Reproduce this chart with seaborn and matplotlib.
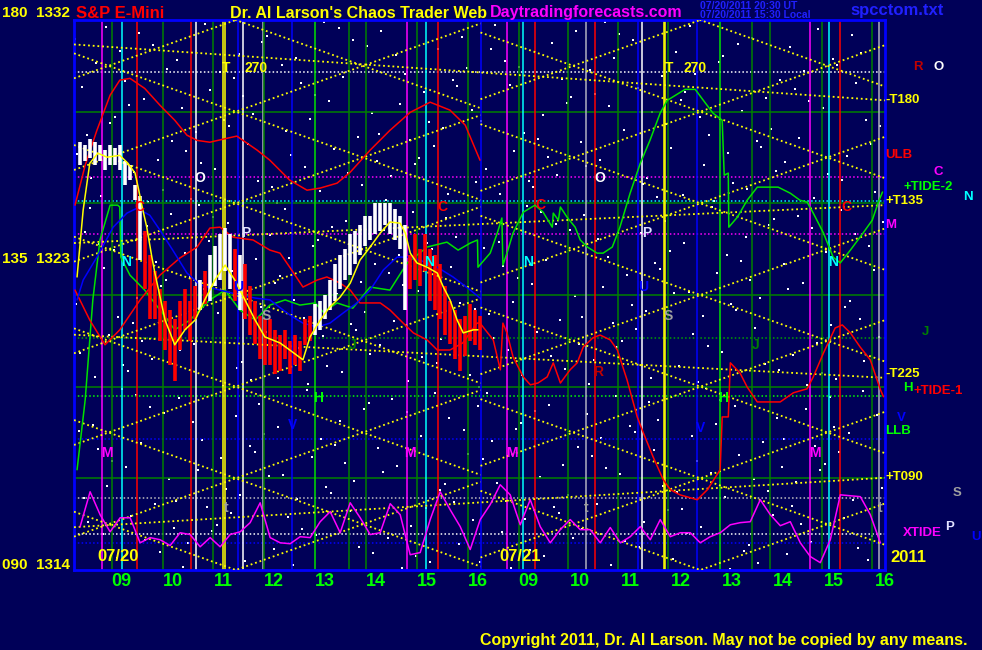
import numpy as np
import pandas as pd
import seaborn as sns
import matplotlib.pyplot as plt

sns.set_style('dark')
plt.rcParams['font.family'] = ['Liberation Sans', 'DejaVu Sans']
plt.rcParams['font.weight'] = 'bold'

BG = '#000058'

# ---- price bars (day 1), hours from 09:00 ----
bar_highs = [1328.0, 1327.9, 1328.1, 1328.0, 1327.9, 1327.75, 1327.9, 1327.8, 1327.9, 1327.4,
             1327.25, 1326.6, 1326.25, 1325.1, 1324.3, 1323.8, 1323.2, 1322.8, 1322.5, 1322.2,
             1322.8, 1323.2, 1322.8, 1323.3, 1323.5, 1323.8, 1324.3, 1324.6, 1325.0, 1325.2,
             1325.0, 1324.5, 1324.3, 1324.0, 1323.3, 1322.8, 1322.3, 1322.2, 1322.2, 1321.85,
             1321.7, 1321.85, 1321.5, 1321.7, 1321.5, 1322.2, 1322.3, 1322.7, 1322.8, 1323.0,
             1323.5, 1324.0, 1324.3, 1324.5, 1325.0, 1325.1, 1325.3, 1325.6, 1325.6, 1326.0,
             1326.0, 1326.0, 1326.0, 1325.8, 1325.6, 1325.3, 1324.3, 1325.0, 1324.5, 1325.0,
             1324.5, 1324.3, 1324.0, 1323.3, 1322.8, 1322.5, 1322.2, 1322.3, 1322.7, 1322.5,
             1322.3]
bar_lows = [1327.25, 1327.4, 1327.5, 1327.25, 1327.4, 1327.1, 1327.25, 1327.25, 1327.1, 1326.6,
            1326.75, 1326.1, 1324.15, 1323.2, 1322.2, 1322.2, 1321.5, 1321.2, 1320.7, 1320.2,
            1321.2, 1321.85, 1321.5, 1322.2, 1322.5, 1322.7, 1322.8, 1323.3, 1323.5, 1323.8,
            1323.2, 1322.8, 1322.5, 1322.2, 1321.7, 1321.4, 1320.9, 1320.7, 1320.7, 1320.4,
            1320.5, 1320.9, 1320.4, 1320.7, 1320.5, 1321.35, 1321.5, 1321.7, 1321.85, 1322.2,
            1322.5, 1322.8, 1323.2, 1323.5, 1323.65, 1324.0, 1324.3, 1324.6, 1324.8, 1325.0,
            1325.1, 1325.3, 1325.0, 1324.8, 1324.5, 1322.5, 1323.2, 1323.5, 1323.3, 1323.8,
            1322.8, 1322.5, 1322.2, 1321.7, 1321.4, 1320.9, 1320.5, 1321.0, 1321.5, 1321.35,
            1321.2]
bar_dirs = "wwwwwwwwwwwww" + "rrrrrrrrrrr" + "w" + "r" + "wwwww" + "r" + "w" + "r" * 14 + "w" * 19 + "r" * 15
bar_start, bar_step = -0.62, 0.0983

# ---- curves (time in session hours, value in price) ----
tide2_t = [-0.68, -0.52, -0.37, -0.23, -0.03, 0.12, 0.16, 0.18, 0.36, 0.65, 0.95, 1.24, 1.54, 1.93, 2.23,
           2.52, 2.82, 3.11, 3.41, 3.7, 4.0, 4.16, 4.43, 4.74, 5.08, 5.47, 5.81, 6.2, 6.59, 6.81, 7.05,
           7.19, 7.2, 7.44, 7.58, 7.67, 7.69, 7.77, 7.89, 8.09, 8.32, 8.48, 8.66, 8.68, 8.78, 8.82,
           8.95, 9.11, 9.21, 9.35, 9.54, 9.66, 9.84, 9.99, 10.19, 10.39, 10.58, 10.78, 10.92, 11.27,
           11.47, 11.63, 11.82, 12.0, 12.02, 12.04, 12.12, 12.13, 12.3, 12.49, 12.69, 13.1, 13.34,
           13.53, 13.67, 13.79, 13.99, 14.18, 14.32, 14.52, 14.77, 14.95, 15.07, 15.15]
tide2_v = [1317.28, 1319.57, 1322.84, 1324.8, 1325.94, 1325.94, 1325.88, 1324.24, 1323.65, 1323.16,
           1322.51, 1321.86, 1322.18, 1322.84, 1323.16, 1322.51, 1322.18, 1322.67, 1322.84, 1322.67,
           1322.74, 1322.44, 1322.74, 1322.57, 1323.26, 1323.16, 1324.05, 1324.57, 1324.73, 1324.47,
           1324.7, 1324.8, 1323.91, 1324.37, 1325.03, 1325.52, 1323.98, 1324.37, 1325.03, 1325.71,
           1325.94, 1325.71, 1325.22, 1325.68, 1325.45, 1325.88, 1325.55, 1325.22, 1324.8, 1324.57,
           1324.37, 1324.37, 1324.57, 1325.22, 1326.33, 1327.31, 1328.06, 1328.95, 1329.37, 1329.73,
           1329.73, 1329.37, 1328.95, 1328.72, 1327.8, 1326.92, 1326.99, 1325.22, 1325.55, 1326.1,
           1326.53, 1326.53, 1326.33, 1326.1, 1326.04, 1325.68, 1325.03, 1324.24, 1324.05, 1324.47,
           1325.03, 1325.45, 1326.04, 1326.37]

tide1_t = [-0.72, -0.43, -0.13, 0.16, 0.56, 0.95, 1.34, 1.68, 1.93, 2.13, 2.39, 2.78, 3.11, 3.31, 3.5,
           3.76, 4.04, 4.23, 4.49, 4.69, 4.88, 5.28, 5.47, 5.73, 5.93, 6.2, 6.4, 6.65, 6.9, 7.18,
           7.24, 7.5, 7.64, 7.69, 7.77, 7.89, 8.09, 8.23, 8.38, 8.56, 8.68, 8.82, 9.01, 9.15, 9.27,
           9.46, 9.6, 9.8, 9.94, 10.13, 10.33, 10.45, 10.64, 10.84, 10.98, 11.17, 11.51, 11.71, 11.96,
           12.0, 12.12, 12.16, 12.35, 12.49, 12.69, 13.14, 13.4, 13.67, 13.79, 13.99, 14.22, 14.36,
           14.52, 14.71, 14.91, 15.11, 15.17]
tide1_v = [1323.16, 1322.18, 1321.37, 1321.86, 1322.84, 1323.65, 1324.21, 1324.57, 1325.19, 1325.22,
           1324.89, 1324.8, 1324.47, 1324.37, 1323.91, 1323.26, 1323.49, 1323.59, 1323.39, 1323.16,
           1322.74, 1322.74, 1322.51, 1322.08, 1321.76, 1321.53, 1321.2, 1321.2, 1321.43, 1322.08,
           1322.08, 1321.53, 1320.55, 1322.08, 1321.76, 1320.97, 1320.32, 1320.06, 1320.12, 1320.32,
           1320.78, 1320.12, 1320.55, 1320.78, 1321.3, 1321.6, 1321.69, 1321.53, 1321.2, 1320.22,
           1319.01, 1318.49, 1317.71, 1316.96, 1316.63, 1316.46, 1316.3, 1316.63, 1317.28, 1319.01,
           1319.01, 1320.78, 1320.45, 1319.99, 1319.5, 1319.5, 1319.8, 1319.93, 1320.32, 1321.1,
           1321.92, 1322.02, 1321.76, 1321.3, 1320.88, 1319.9, 1319.67]

ulb_t = [-0.72, -0.52, -0.29, -0.03, 0.16, 0.36, 0.65, 0.95, 1.24, 1.48, 1.68, 1.93, 2.27, 2.46, 2.86,
         3.11, 3.5, 3.84, 4.1, 4.43, 4.69, 5.08, 5.47, 5.87, 6.26, 6.65, 6.95, 7.24]
ulb_v = [1325.94, 1327.25, 1328.39, 1329.54, 1330.03, 1330.09, 1329.76, 1329.21, 1328.72, 1328.23,
         1328.06, 1328.0, 1328.13, 1328.2, 1327.74, 1327.41, 1326.76, 1326.43, 1326.5, 1326.66,
         1327.02, 1327.74, 1328.39, 1328.98, 1329.31, 1329.05, 1328.56, 1327.41]

blue_t = [-0.68, -0.56, -0.29, 0.03, 0.3, 0.5, 0.75, 0.95, 1.2, 1.48, 1.74, 2.13, 2.52, 2.82, 3.11,
          3.37, 3.56, 3.76, 4.04, 4.29, 4.55, 4.82, 5.08, 5.34, 5.61, 5.87, 6.06, 6.4, 6.71, 7.05, 7.24]
blue_v = [1322.84, 1323.49, 1324.24, 1325.22, 1325.68, 1325.84, 1325.61, 1325.12, 1324.47, 1323.72,
          1323.33, 1323.16, 1323.0, 1322.9, 1322.84, 1322.51, 1322.28, 1322.08, 1321.95, 1322.08,
          1322.41, 1322.74, 1323.16, 1323.82, 1324.24, 1324.24, 1324.14, 1323.91, 1323.59, 1323.16,
          1322.9]

avg_t = [-0.68, -0.56, -0.43, -0.27, -0.09, 0.16, 0.32, 0.46, 0.52, 0.6, 0.69, 0.79, 0.85, 1.05, 1.24,
         1.44, 1.64, 1.83, 2.03, 2.23, 2.42, 2.62, 2.82, 3.01, 3.31, 3.5, 3.76, 3.9, 4.1, 4.29, 4.49,
         4.69, 4.88, 5.08, 5.28, 5.47, 5.67, 5.77, 5.87, 6.0, 6.2, 6.4, 6.52, 6.65, 6.79, 6.91, 7.11, 7.2]
avg_v = [1323.59, 1325.78, 1327.31, 1327.64, 1327.51, 1327.57, 1327.31, 1326.99, 1326.53, 1325.88,
         1325.22, 1324.24, 1323.72, 1322.18, 1321.37, 1321.86, 1322.18, 1322.84, 1323.49, 1323.98,
         1323.49, 1322.84, 1322.18, 1321.63, 1321.43, 1321.2, 1320.88, 1321.63, 1322.18, 1322.61,
         1322.93, 1323.39, 1324.14, 1324.57, 1325.03, 1325.39, 1325.35, 1325.03, 1324.37, 1324.05,
         1323.91, 1323.72, 1323.26, 1322.84, 1322.18, 1321.76, 1321.86, 1321.86]

xtide_start, xtide_step = -0.62, 0.1966
xtide_v = [1315.42, 1316.56, 1315.81, 1315.25, 1315.71, 1315.71, 1314.89, 1315.06, 1314.99, 1314.8,
           1315.22, 1315.16, 1314.76, 1315.06, 1314.76, 1315.16, 1315.25, 1315.55, 1316.2, 1315.06,
           1314.89, 1314.86, 1315.09, 1315.06, 1315.58, 1315.91, 1315.22, 1316.2, 1315.71, 1315.16,
           1315.22, 1316.17, 1315.81, 1314.5, 1314.57, 1315.65, 1316.56, 1315.97, 1315.42, 1314.67,
           1315.65,
           1316.14, 1316.79, 1316.46, 1315.48, 1316.3, 1315.42, 1314.89, 1315.32, 1315.65, 1315.32,
           1315.32, 1314.89, 1315.39, 1314.89, 1315.09, 1315.42, 1314.99, 1315.65, 1315.09, 1315.22,
           1315.22, 1314.89, 1315.09, 1315.22, 1315.48, 1315.55, 1315.58, 1316.3, 1315.81, 1315.45,
           1315.58, 1314.89, 1314.44, 1314.24, 1314.99, 1316.46, 1316.43, 1316.4, 1315.81, 1314.89]

# ---- vertical timing lines ----
vline_t = [-0.18, 0.0, 0.21, 0.49, 1.0, 1.56, 1.65, 2.0, 2.19, 2.22, 2.48, 2.58, 2.98, 3.0, 3.55, 4.0,
           4.67, 5.0, 5.8, 6.0, 6.17, 6.42, 7.0, 7.25,
           7.77, 8.0, 8.09, 8.33, 8.96, 9.32, 9.5, 9.96, 10.35, 10.43, 10.85, 10.88, 10.94, 11.5,
           11.95, 12.58, 12.94, 13.73, 13.96, 14.09, 14.32, 14.95, 15.09]
vline_c = ['#ff00ff', '#008000', '#00ffff', '#ff0000', '#008000', '#ff0000', '#ffffff', '#008000',
           '#ffff00', '#ffff00', '#0000ff', '#ffffff', '#b0b0c0', '#008000', '#0000ff', '#00e000',
           '#008000', '#008000', '#ff00ff', '#008000', '#00ffff', '#ff0000', '#008000', '#0000ff',
           '#ff00ff', '#008000', '#00ffff', '#ff0000', '#008000', '#b0b0c0', '#ff0000', '#008000',
           '#0000ff', '#ffffff', '#ffff00', '#ffff00', '#008000', '#0000ff', '#00e000', '#008000',
           '#008000', '#ff00ff', '#008000', '#00ffff', '#ff0000', '#008000', '#b0b0c0']

# ---- horizontal price levels ----
hline_v = [1330.3, 1329.0, 1326.86, 1326.07, 1326.0, 1325.0, 1323.0, 1321.6, 1320.0, 1319.7, 1318.3,
           1317.0, 1316.35, 1315.18, 1314.9]
hline_c = ['#ffffff', '#008000', '#ff00ff', '#00ffff', '#008000', '#ff00ff', '#008000', '#00a000',
           '#008000', '#00ff00', '#0000ff', '#008000', '#c0c0c0', '#ffffff', '#0000ff']
hline_dotted = [1, 0, 1, 1, 0, 1, 0, 1, 0, 1, 1, 0, 1, 1, 1]

# ---- price/time lattice ----
lattice_days = [(-0.74, 7.25, 2.44), (7.25, 15.2, 11.57)]   # start, end, crossing hour
lattice_levels = list(range(1305, 1342, 3))
lattice_slope = 0.6
tline_left = [1331.2, 1324.7, 1321.7, 1315.4]
tline_right = [1329.37, 1325.94, 1320.29, 1317.02]

hour_pos = list(range(16))
hour_lab = ['09', '10', '11', '12', '13', '14', '15', '16'] * 2

# ---------------- drawing ----------------
W, H = 982, 650
fig = plt.figure(figsize=(W / 100, H / 100), dpi=100, facecolor=BG)
ax = fig.add_axes([74 / W, 80 / H, 811 / W, 550 / H])
ax.set_facecolor(BG)
ax.set_xlim(-0.74, 15.2)
ax.set_ylim(1314, 1332)
ax.grid(False)


def halton(i, b):
    f, r = 1.0, 0.0
    while i > 0:
        f /= b
        r += f * (i % b)
        i //= b
    return r


star_x = [halton(i, 2) for i in range(1, 520)]
star_y = [halton(i, 3) for i in range(1, 520)]
ax.scatter(star_x, star_y, s=1.2, c='white', marker='s', linewidths=0, transform=ax.transAxes, zorder=1)

for v, c, d in zip(hline_v, hline_c, hline_dotted):
    ax.axhline(v, color=c, lw=1.1, ls=(0, (1, 1.5)) if d else '-', zorder=2)

for t, c in zip(vline_t, vline_c):
    ax.axvline(t, color=c, lw=1.1, zorder=2)

for t0, t1, anchor in lattice_days:
    for lv in lattice_levels:
        for sgn in (1, -1):
            ax.plot([t0, t1], [lv + sgn * lattice_slope * (t0 - anchor), lv + sgn * lattice_slope * (t1 - anchor)],
                    color='#ffff00', lw=1.3, ls=(0, (1, 1.6)), zorder=3)
for a, b in zip(tline_left, tline_right):
    ax.plot([-0.74, 15.2], [a, b], color='#ffff00', lw=1.3, ls=(0, (1, 1.6)), zorder=3)

curves = pd.DataFrame({'t': tide2_t, 'v': tide2_v})
sns.lineplot(data=curves, x='t', y='v', sort=False, color='#00e000', lw=1.1, ax=ax, zorder=4)
sns.lineplot(x=tide1_t, y=tide1_v, sort=False, color='#ff0000', lw=1.1, ax=ax, zorder=4)
sns.lineplot(x=ulb_t, y=ulb_v, sort=False, color='#ff0000', lw=1.1, ax=ax, zorder=4)
sns.lineplot(x=blue_t, y=blue_v, sort=False, color='#0000ff', lw=1.1, ax=ax, zorder=4)
xt = [xtide_start + xtide_step * i for i in range(len(xtide_v))]
sns.lineplot(x=xt, y=xtide_v, sort=False, color='#ff00ff', lw=1.1, ax=ax, zorder=4)

bt = [bar_start + bar_step * i for i in range(len(bar_highs))]
bc = ['#ffffff' if d == 'w' else '#ff0000' for d in bar_dirs]
ax.vlines(bt, bar_lows, bar_highs, colors=bc, lw=2.6, zorder=5)
sns.lineplot(x=avg_t, y=avg_v, sort=False, color='#ffff00', lw=1.1, ax=ax, zorder=6)

for s in ax.spines.values():
    s.set_color('#0000ff')
    s.set_linewidth(2)
ax.set_yticks([])
ax.set_xticks(hour_pos)
ax.set_xticklabels(hour_lab, color='#00ff00', fontsize=13, fontweight='bold')
ax.tick_params(axis='x', length=10, width=1, color='#008000', pad=-8)
for lab in ax.get_xticklabels():
    lab.set_ha('left')
ax.set_xlabel('')
ax.set_ylabel('')

# in-chart letters
inner = [('T', 2.25, 1330.42, '#ffff00'), ('270', 2.84, 1330.42, '#ffff00'),
         ('T', 10.96, 1330.42, '#ffff00'), ('270', 11.47, 1330.42, '#ffff00'),
         ('O', 1.74, 1326.82, '#ffffff'), ('O', 9.6, 1326.82, '#ffffff'),
         ('P', 2.64, 1325.03, '#e0e0ff'), ('P', 10.51, 1325.03, '#e0e0ff'),
         ('C', 0.54, 1325.88, '#ff0000'), ('C', 6.5, 1325.88, '#ff0000'),
         ('C', 8.42, 1325.94, '#ff0000'), ('C', 14.44, 1325.88, '#ff0000'),
         ('N', 0.28, 1324.08, '#00ffff'), ('N', 6.24, 1324.08, '#00ffff'),
         ('N', 8.19, 1324.08, '#00ffff'), ('N', 14.18, 1324.08, '#00ffff'),
         ('S', 3.03, 1322.31, '#a0a0a0'), ('S', 10.94, 1322.31, '#a0a0a0'),
         ('U', 2.48, 1323.26, '#0000ff'), ('U', 10.45, 1323.26, '#0000ff'),
         ('J', 4.73, 1321.37, '#008000'), ('J', 12.65, 1321.37, '#008000'),
         ('H', 4.06, 1319.63, '#00ff00'), ('H', 12.02, 1319.63, '#00ff00'),
         ('V', 3.56, 1318.75, '#0000ff'), ('V', 11.57, 1318.65, '#0000ff'),
         ('R', 9.56, 1320.48, '#c00000'),
         ('M', -0.09, 1317.84, '#ff00ff'), ('M', 5.87, 1317.84, '#ff00ff'),
         ('M', 7.87, 1317.84, '#ff00ff'), ('M', 13.83, 1317.84, '#ff00ff'),
         ('t', 2.25, 1316.04, '#a0a0a0'), ('t', 9.33, 1316.04, '#a0a0a0'), ('t', 15.11, 1316.04, '#a0a0a0')]
for s, x, y, c in inner:
    ax.text(x, y, s, color=c, fontsize=10, ha='center', va='center', zorder=7)
ax.text(-0.29, 1314.45, '07/20', color='#ffff00', fontsize=12, ha='left', va='center', zorder=7)
ax.text(7.63, 1314.45, '07/21', color='#ffff00', fontsize=12, ha='left', va='center', zorder=7)


def ftext(x, y, s, c, size=11, **kw):
    fig.text(x / W, 1 - y / H, s, color=c, fontsize=size, va='center', ha='left', **kw)


ftext(2, 13, '180  1332', '#ffff00', 11)
ftext(2, 259, '135  1323', '#ffff00', 11)
ftext(2, 565, '090  1314', '#ffff00', 11)
ftext(76, 13, 'S&P E-Mini', '#ff0000', 12)
ftext(230, 13, "Dr. Al Larson's Chaos Trader Web", '#ffff00', 11.5)
ftext(490, 13, 'Daytradingforecasts.com', '#ff00ff', 11.5)
ftext(700, 6, '07/20/2011 20:30 UT', '#2020ff', 7.5)
ftext(700, 15, '07/20/2011 15:30 Local', '#2020ff', 7.5)
ftext(850, 10, 'spcctom.txt', '#2020ff', 12)

right = [('R', 913, 67, '#c00000'), ('O', 933, 67, '#ffffff'), ('-T180', 885, 100, '#ffff00'),
         ('ULB', 885, 155, '#ff0000'), ('C', 933, 172, '#ff00ff'), ('+TIDE-2', 903, 187, '#00ff00'),
         ('N', 963, 197, '#00ffff'), ('+T135', 885, 201, '#ffff00'), ('M', 885, 225, '#ff00ff'),
         ('J', 922, 332, '#008000'), ('-T225', 885, 374, '#ffff00'), ('+TIDE-1', 913, 391, '#ff0000'),
         ('H', 903, 388, '#00ff00'), ('LLB', 885, 431, '#00ff00'), ('V', 897, 418, '#0000ff'),
         ('+T090', 885, 477, '#ffff00'), ('S', 953, 493, '#a0a0a0'), ('XTIDE', 903, 533, '#ff00ff'),
         ('P', 945, 527, '#e0e0ff'), ('U', 971, 537, '#0000ff')]
for s, x, y, c in right:
    ftext(x, y, s, c, 9.5)
ftext(890, 558, '2011', '#ffff00', 12)
ftext(480, 640, 'Copyright 2011, Dr. Al Larson. May not be copied by any means.', '#ffff00', 11.5)

fig.savefig('out.png', dpi=100, facecolor=BG)
